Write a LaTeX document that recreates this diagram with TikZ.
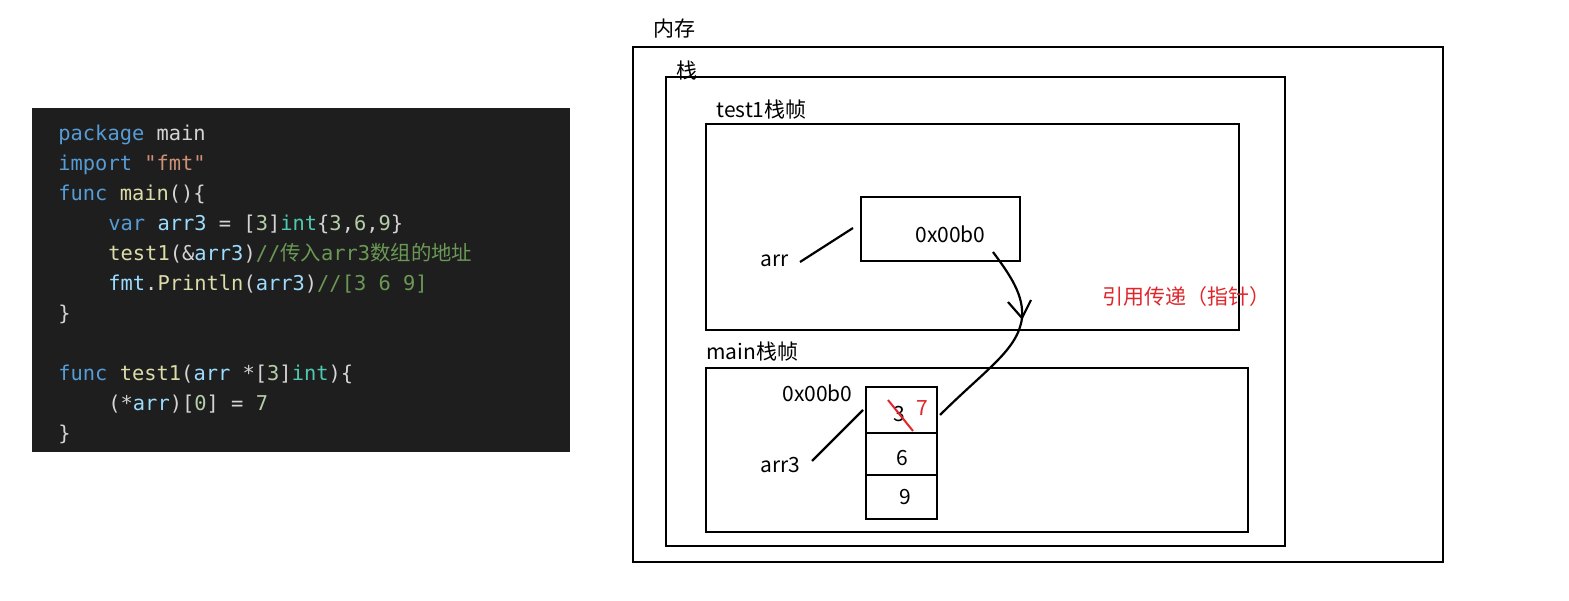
\documentclass[tikz,border=0pt]{standalone}
\usepackage{fontspec}
\setmainfont{Noto Sans CJK SC}
\setmonofont{DejaVu Sans Mono}
\newfontfamily\cjk{Noto Sans CJK SC}
\begin{document}
\definecolor{kw}{HTML}{569CD6}
\definecolor{tx}{HTML}{D4D4D4}
\definecolor{st}{HTML}{CE9178}
\definecolor{fn}{HTML}{DCDCAA}
\definecolor{vr}{HTML}{9CDCFE}
\definecolor{ty}{HTML}{4EC9B0}
\definecolor{cm}{HTML}{6A9955}
\definecolor{nm}{HTML}{B5CEA8}
\definecolor{rd}{HTML}{E0262B}
\begin{tikzpicture}[x=0.5pt,y=-0.5pt,
  code/.style={anchor=base west,inner sep=0,text=tx,font=\ttfamily\fontsize{10.2}{12}\selectfont},
  lbl/.style={anchor=base west,inner sep=0,font=\fontsize{10.5}{12}\selectfont},
  box/.style={draw,line width=1.2pt},
  ln/.style={line width=1.1pt}]
\useasboundingbox (0,0) rectangle (1569,600);
% code panel
\fill[fill={rgb,255:red,30;green,30;blue,30}] (32,108) rectangle (570,452);
\node[code] (c1) at (58,140) {\textcolor{kw}{package} main};
\node[code] (c2) at (58,170) {\textcolor{kw}{import} \textcolor{st}{"fmt"}};
\node[code] (c3) at (58,200) {\textcolor{kw}{func} \textcolor{fn}{main}()\{};
\node[code] (c4) at (108,230) {\textcolor{kw}{var} \textcolor{vr}{arr3} = [\textcolor{nm}{3}]\textcolor{ty}{int}\{\textcolor{nm}{3},\textcolor{nm}{6},\textcolor{nm}{9}\}};
\node[code] (c5) at (108,260) {\textcolor{fn}{test1}(\&\textcolor{vr}{arr3})\textcolor{cm}{//{\cjk 传入}arr3{\cjk 数组的地址}}};
\node[code] (c6) at (108,290) {\textcolor{vr}{fmt}.\textcolor{fn}{Println}(\textcolor{vr}{arr3})\textcolor{cm}{//[3 6 9]}};
\node[code] (c7) at (58,320) {\}};
\node[code] (c8) at (58,380) {\textcolor{kw}{func} \textcolor{fn}{test1}(\textcolor{vr}{arr} *[\textcolor{nm}{3}]\textcolor{ty}{int})\{};
\node[code] (c9) at (108,410) {(*\textcolor{vr}{arr})[\textcolor{nm}{0}] = \textcolor{nm}{7}};
\node[code] (c10) at (58,440) {\}};
% memory
\draw[box] (633,47) rectangle (1443,562);
\node[lbl] (nc) at (653,36) {内存};
\draw[box] (666,77) rectangle (1285,546);
\node[lbl] (zh) at (676,78) {栈};
\draw[box] (706,124) rectangle (1239,330);
\node[lbl] (t1) at (716,117) {test1栈帧};
\draw[box] (861,197) rectangle (1020,261);
\node[lbl] (p1) at (915,242) {0x00b0};
\node[lbl] (arr) at (760,266) {arr};
\coordinate (a1) at (800,262); \coordinate (a2) at (853,228);
\draw[ln] (a1) -- (a2);
\node[lbl,text=rd] (yy) at (1102,304) {引用传递（指针）};
\node[lbl] (mf) at (706,359) {main栈帧};
\draw[box] (706,368) rectangle (1248,532);
\draw[box] (866,387) rectangle (937,433);
\draw[box] (866,433) rectangle (937,475);
\draw[box] (866,475) rectangle (937,519);
\node[lbl] (v3) at (893,421) {3};
\node[lbl] (v6) at (896,465) {6};
\node[lbl] (v9) at (899,504) {9};
\node[lbl] (p2) at (782,401) {0x00b0};
\node[lbl] (arr3) at (760,472) {arr3};
\coordinate (b1) at (812,461); \coordinate (b2) at (863,410);
\draw[ln] (b1) -- (b2);
\coordinate (r1) at (888,400); \coordinate (r2) at (913,431);
\draw[rd,line width=1pt] (r1) -- (r2);
\node[lbl,text=rd] (v7) at (916,415) {7};
% curve
\coordinate (s) at (993,252); \coordinate (m) at (1022,318); \coordinate (e) at (940,415);
\draw[ln] (s) .. controls (1010,275) and (1024,295) .. (m) .. controls (1018,350) and (985,370) .. (e);
\coordinate (h1) at (1008,302); \coordinate (h2) at (1031,300);
\draw[ln] (h1) -- (m) -- (h2);
\end{tikzpicture}
\end{document}
